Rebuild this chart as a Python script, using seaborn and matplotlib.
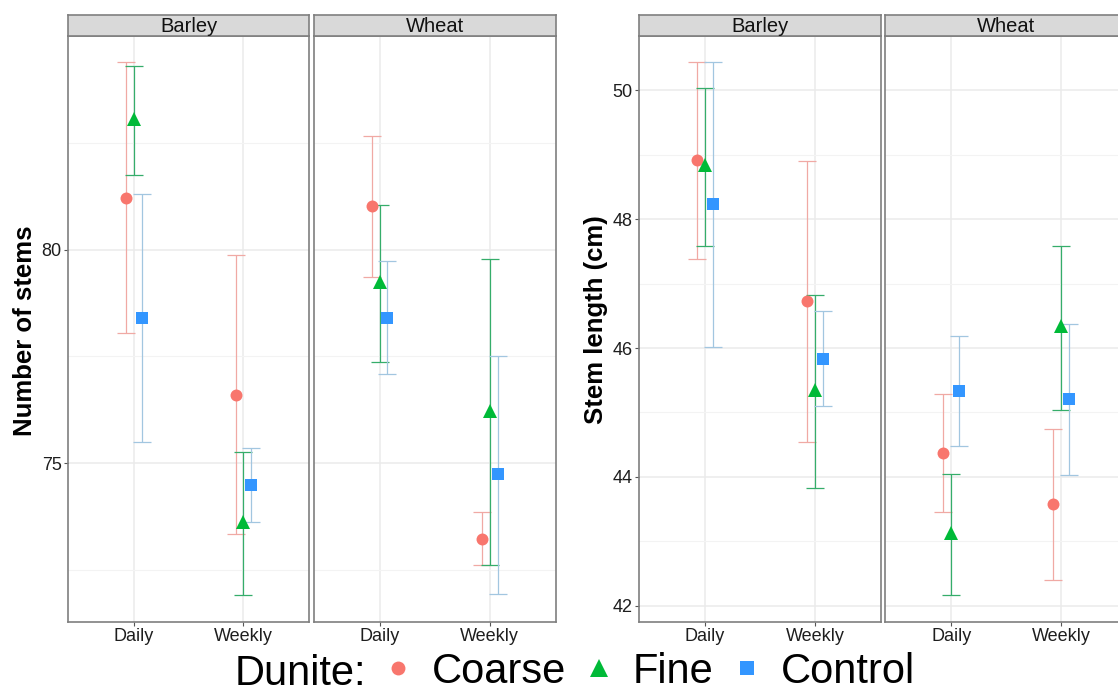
import numpy as np
import pandas as pd
import matplotlib
matplotlib.use("Agg")
import matplotlib.pyplot as plt
from matplotlib.lines import Line2D
from matplotlib.ticker import FixedLocator
import seaborn as sns

# ---------------- data ----------------
crops = ["Barley", "Wheat"]
freqs = ["Daily", "Weekly"]
dunite = ["Coarse", "Fine", "Control"]

# order: Barley-Daily, Barley-Weekly, Wheat-Daily, Wheat-Weekly ; each [Coarse, Fine, Control]
stems_mean = [81.22, 83.06, 78.40, 76.59, 73.61, 74.49, 81.02, 79.24, 78.40, 73.23, 76.21, 74.74]
stems_lo = [78.04, 81.76, 75.50, 73.33, 71.90, 73.61, 79.36, 77.37, 77.08, 72.60, 72.60, 71.94]
stems_hi = [84.40, 84.30, 81.31, 79.87, 75.25, 75.36, 82.66, 81.05, 79.73, 73.86, 79.78, 77.52]

length_mean = [48.92, 48.84, 48.24, 46.73, 45.35, 45.83, 44.37, 43.13, 45.34, 43.58, 46.35, 45.21]
length_lo = [47.39, 47.58, 46.02, 44.54, 43.83, 45.10, 43.45, 42.16, 44.48, 42.40, 45.04, 44.03]
length_hi = [50.44, 50.04, 50.44, 48.91, 46.83, 46.57, 45.28, 44.04, 46.18, 44.75, 47.58, 46.38]

stems_ticks = [75, 80]
stems_minor = [72.5, 77.5, 82.5]
length_ticks = [42, 44, 46, 48, 50]
length_minor = [43, 45, 47, 49]

point_colors = {"Coarse": "#F8766D", "Fine": "#00BA38", "Control": "#3396FF"}
bar_colors = {"Coarse": "#F0A9A4", "Fine": "#35AD6A", "Control": "#A2C6E0"}
marker_shapes = ["o", "^", "s"]
marker_sizes = {"Coarse": 8.6, "Fine": 10.2, "Control": 8.8}


def make_df(mean, lo, hi):
    rows = []
    i = 0
    for c in crops:
        for f in freqs:
            for d in dunite:
                rows.append(dict(crop=c, freq=f, dunite=d, mean=mean[i], lo=lo[i], hi=hi[i]))
                i += 1
    return pd.DataFrame(rows)


stems_df = make_df(stems_mean, stems_lo, stems_hi)
length_df = make_df(length_mean, length_lo, length_hi)

# ---------------- figure ----------------
sns.set_theme(style="white")
plt.rcParams["font.family"] = ["Liberation Sans", "DejaVu Sans"]

W, H = 1118, 693
fig = plt.figure(figsize=(W / 100, H / 100), dpi=100)


def frac(x0, x1, ytop, ybot):
    return [x0 / W, 1 - ybot / H, (x1 - x0) / W, (ybot - ytop) / H]


PLOT_TOP, PLOT_BOT = 35.5, 622
STRIP_TOP = 15
BORDER = "#7F7F7F"


def data_range(df):
    lo, hi = df["lo"].min(), df["hi"].max()
    pad = 0.05 * (hi - lo)
    return lo - pad, hi + pad


def draw_panel(df, facet_x, ticks, minor, ylabel, ylabel_x, ylabel_y):
    ylim = data_range(df)
    for k, crop in enumerate(crops):
        x0, x1 = facet_x[k]
        ax = fig.add_axes(frac(x0, x1, PLOT_TOP, PLOT_BOT))
        sub = df[df["crop"] == crop]
        sns.pointplot(
            data=sub, x="freq", y="mean", hue="dunite",
            order=freqs, hue_order=dunite, palette=point_colors,
            markers=marker_shapes, linestyle="none", dodge=0.143,
            errorbar=None, legend=False, ax=ax,
            markersize=9, markeredgewidth=0, zorder=4,
        )
        point_lines = list(ax.lines)
        for i, d in enumerate(dunite):
            ln = point_lines[i]
            ln.set_markersize(marker_sizes[d])
            xs = ln.get_xdata()
            sd = sub[sub["dunite"] == d].set_index("freq").loc[freqs]
            m = sd["mean"].to_numpy()
            ax.errorbar(
                xs, m, yerr=[m - sd["lo"].to_numpy(), sd["hi"].to_numpy() - m],
                fmt="none", ecolor=bar_colors[d], elinewidth=0.9,
                capsize=6.4, capthick=0.9, zorder=3,
            )
        ax.set_xlim(-0.6, 1.6)
        ax.set_ylim(*ylim)
        ax.yaxis.set_major_locator(FixedLocator(ticks))
        ax.yaxis.set_minor_locator(FixedLocator(minor))
        ax.set_axisbelow(True)
        ax.grid(False)
        ax.grid(which="major", color="#EBEBEB", linewidth=1.1)
        ax.grid(which="minor", axis="y", color="#F3F3F3", linewidth=0.8)
        ax.set_xlabel("")
        ax.set_ylabel("")
        for s in ax.spines.values():
            s.set_visible(True)
            s.set_color(BORDER)
            s.set_linewidth(1.2)
        ax.tick_params(axis="both", which="major", length=3, width=0.8,
                       color="#555555", labelsize=13, labelcolor="#1E1E1E", pad=1.5,
                       bottom=True, left=True)
        ax.tick_params(axis="both", which="minor", length=0)
        if k > 0:
            ax.tick_params(axis="y", left=False, labelleft=False)
        # strip
        sax = fig.add_axes(frac(x0, x1, STRIP_TOP, PLOT_TOP))
        sax.set_facecolor("#D9D9D9")
        sax.set_xticks([])
        sax.set_yticks([])
        for s in sax.spines.values():
            s.set_color(BORDER)
            s.set_linewidth(1.2)
        sax.text(0.5, 0.45, crop, transform=sax.transAxes, ha="center",
                 va="center", fontsize=14.5, color="#111111")
    fig.text(ylabel_x / W, 1 - ylabel_y / H, ylabel, rotation=90, rotation_mode="anchor",
             ha="center", va="baseline", fontsize=18.5, fontweight="bold", color="black")


draw_panel(stems_df, [(68, 309.3), (313.6, 555.7)], stems_ticks, stems_minor,
           "Number of stems", 32, 331)
draw_panel(length_df, [(639, 881), (885.3, 1127.3)], length_ticks, length_minor,
           "Stem length (cm)", 603, 320)

# ---------------- legend ----------------
fig.text(235 / W, 1 - 685 / H, "Dunite:", fontsize=30, ha="left", va="baseline",
         color="black")
handles = [
    Line2D([], [], marker=marker_shapes[i], color=point_colors[d], linestyle="none",
           markersize={"Coarse": 10, "Fine": 13, "Control": 10.5}[d], markeredgewidth=0)
    for i, d in enumerate(dunite)
]
fig.legend(handles, dunite, loc="center left", bbox_to_anchor=(381.3 / W, 1 - 672 / H),
           ncol=3, frameon=False, fontsize=30, handlelength=0.8, handletextpad=0.415,
           columnspacing=0.39, borderpad=0, borderaxespad=0, labelcolor="black")

fig.savefig("out.png", dpi=100)
